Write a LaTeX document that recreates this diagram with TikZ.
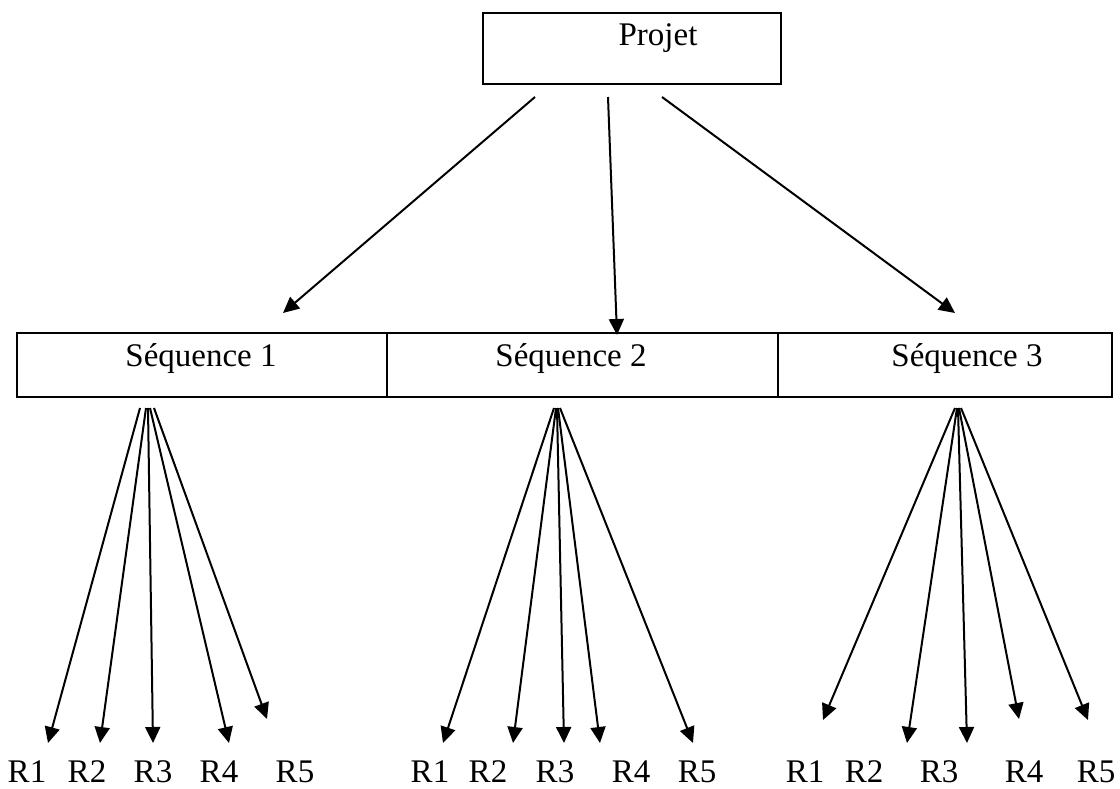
\documentclass[tikz,border=0pt]{standalone}
\usepackage{fontspec}
\setmainfont{Liberation Serif}
\usetikzlibrary{arrows.meta}
\begin{document}
\begin{tikzpicture}[x=1pt,y=-1pt,
  box/.style={draw,line width=2.2pt,inner sep=0pt},
  txt/.style={font=\fontsize{33}{36}\selectfont,anchor=base,inner sep=0pt},
  arr/.style={line width=2pt,-{Triangle[length=16pt,width=15pt]}}]
\useasboundingbox (0,0) rectangle (1120,789);
% boxes
\node[box,minimum width=298pt,minimum height=71pt] (projet) at (632,48.5) {};
\node[box,minimum width=370pt,minimum height=64pt] (seq1) at (202,365) {};
\node[box,minimum width=391pt,minimum height=64pt] (seq2) at (582.5,365) {};
\node[box,minimum width=334pt,minimum height=64pt] (seq3) at (945,365) {};
% texts
\node[txt] (tprojet) at (658,46) {Projet};
\node[txt] (tseq1) at (201,366) {Séquence 1};
\node[txt] (tseq2) at (571,366) {Séquence 2};
\node[txt] (tseq3) at (967,366) {Séquence 3};
% projet arrows
\coordinate (pa) at (535,97);
\coordinate (pb) at (608,97);
\coordinate (pc) at (662,97);
\coordinate (qa) at (283,313);
\coordinate (qb) at (617,335);
\coordinate (qc) at (955,313);
\draw[arr] (pa) -- (qa);
\draw[arr] (pb) -- (qb);
\draw[arr] (pc) -- (qc);
% sequence 1 fan
\coordinate (a1) at (140,408); \coordinate (e11) at (48,743);
\coordinate (a2) at (146,408); \coordinate (e12) at (100,743);
\coordinate (a3) at (148,408); \coordinate (e13) at (153,743);
\coordinate (a4) at (150,408); \coordinate (e14) at (229,743);
\coordinate (a5) at (154,408); \coordinate (e15) at (267,719);
\draw[arr] (a1) -- (e11);
\draw[arr] (a2) -- (e12);
\draw[arr] (a3) -- (e13);
\draw[arr] (a4) -- (e14);
\draw[arr] (a5) -- (e15);
% sequence 2 fan
\coordinate (b1) at (554,408); \coordinate (e21) at (443,743);
\coordinate (b2) at (556,408); \coordinate (e22) at (513,743);
\coordinate (b3) at (557,408); \coordinate (e23) at (564,743);
\coordinate (b4) at (558,408); \coordinate (e24) at (600,743);
\coordinate (b5) at (560,408); \coordinate (e25) at (693,743);
\draw[arr] (b1) -- (e21);
\draw[arr] (b2) -- (e22);
\draw[arr] (b3) -- (e23);
\draw[arr] (b4) -- (e24);
\draw[arr] (b5) -- (e25);
% sequence 3 fan
\coordinate (c1) at (955,408); \coordinate (e31) at (823,720);
\coordinate (c2) at (957,408); \coordinate (e32) at (907,743);
\coordinate (c3) at (958,408); \coordinate (e33) at (967,743);
\coordinate (c4) at (959,408); \coordinate (e34) at (1019,719);
\coordinate (c5) at (961,408); \coordinate (e35) at (1088,720);
\draw[arr] (c1) -- (e31);
\draw[arr] (c2) -- (e32);
\draw[arr] (c3) -- (e33);
\draw[arr] (c4) -- (e34);
\draw[arr] (c5) -- (e35);
% labels
\node[txt] (l11) at (27,782) {R1};
\node[txt] (l12) at (87,782) {R2};
\node[txt] (l13) at (153,782) {R3};
\node[txt] (l14) at (219,782) {R4};
\node[txt] (l15) at (295,782) {R5};
\node[txt] (l21) at (430,782) {R1};
\node[txt] (l22) at (488,782) {R2};
\node[txt] (l23) at (555,782) {R3};
\node[txt] (l24) at (631,782) {R4};
\node[txt] (l25) at (697,782) {R5};
\node[txt] (l31) at (805,782) {R1};
\node[txt] (l32) at (864,782) {R2};
\node[txt] (l33) at (939,782) {R3};
\node[txt] (l34) at (1024,782) {R4};
\node[txt] (l35) at (1096,782) {R5};
\end{tikzpicture}
\end{document}
